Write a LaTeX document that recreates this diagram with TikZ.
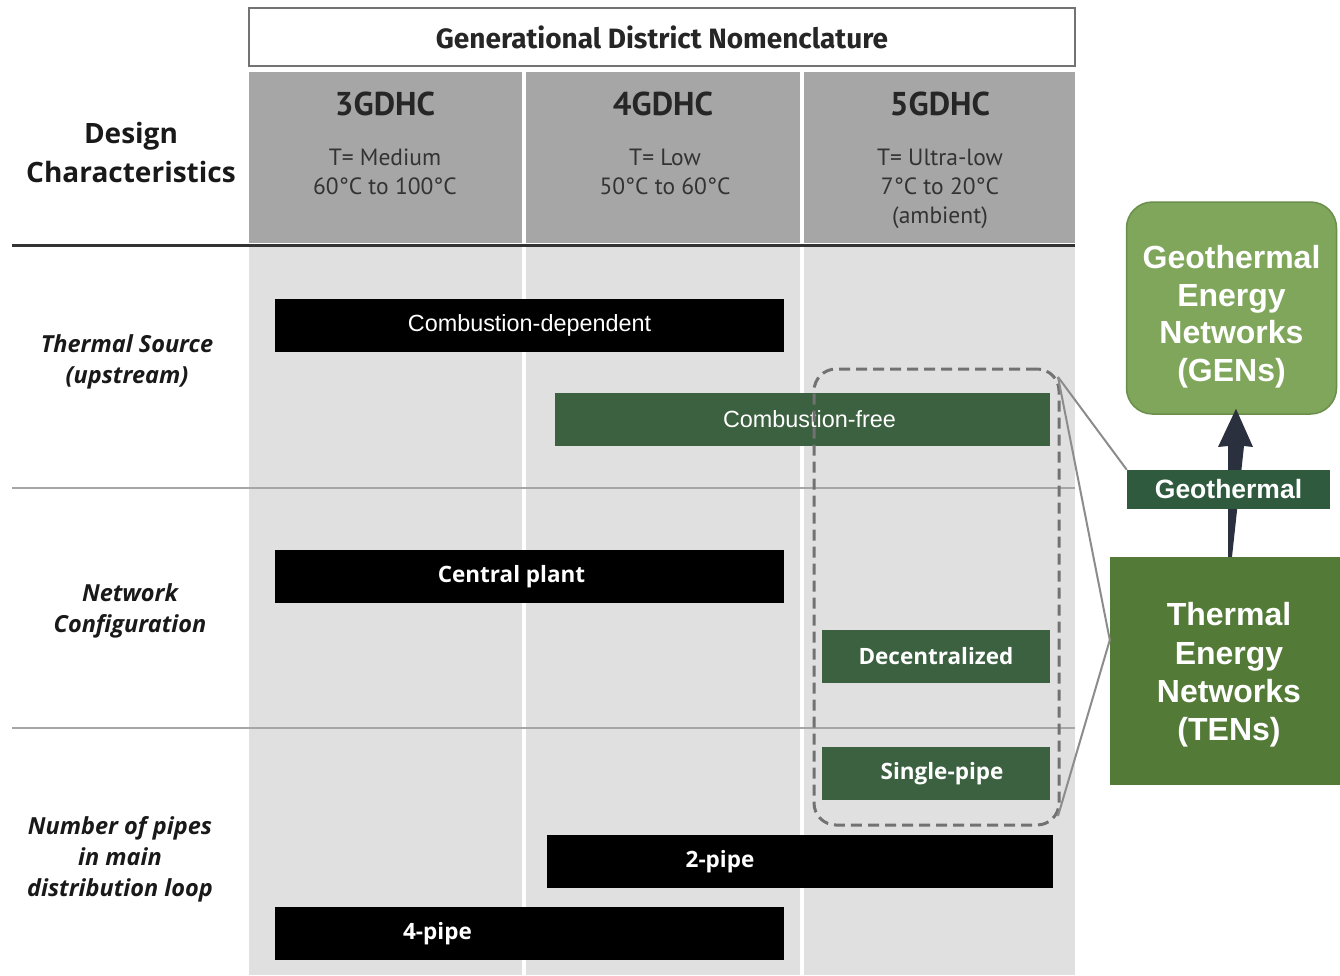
\documentclass[tikz,border=0pt]{standalone}
\usepackage{fontspec}
\setmainfont{Liberation Sans}
\newfontfamily\ptsans{PT Sans}
\newfontfamily\firasans{Fira Sans}
\newfontfamily\opensans{Open Sans}
\usetikzlibrary{calc}
\definecolor{hdrgray}{HTML}{A6A6A6}
\definecolor{bodygray}{HTML}{E0E0E0}
\definecolor{barblack}{HTML}{000000}
\definecolor{bargreen}{HTML}{3B6140}
\definecolor{gensgreen}{HTML}{7FA65B}
\definecolor{gensborder}{HTML}{6A8E4C}
\definecolor{tensgreen}{HTML}{537A37}
\definecolor{geogreen}{HTML}{2F5A3E}
\definecolor{dashgray}{HTML}{727272}
\definecolor{navyarrow}{HTML}{2A303D}
\definecolor{linegray}{HTML}{8C8C8C}
\tikzset{
  hdrcell/.style={fill=hdrgray, draw=none},
  bodycell/.style={fill=bodygray, draw=none},
  hdrtitle/.style={font=\ptsans\bfseries\fontsize{33}{36}\selectfont, text=black!85},
  hdrsub/.style={font=\ptsans\fontsize{23.5}{29}\selectfont, text=black!80, align=center},
  rowlabel/.style={font=\opensans\bfseries\itshape\fontsize{23.5}{31}\selectfont, align=center, text=black!90},
  bar/.style={minimum height=53pt, inner sep=0pt, text=white},
  blackbar/.style={bar, fill=barblack},
  greenbar/.style={bar, fill=bargreen},
  arialtxt/.style={font=\fontsize{23.4}{26}\selectfont},
  opentxt/.style={font=\opensans\bfseries\fontsize{22.5}{26}\selectfont},
  dashbox/.style={draw=dashgray, line width=3pt, dash pattern=on 11pt off 6pt, rounded corners=22pt, inner sep=0pt},
  conn/.style={draw=linegray, line width=2pt},
  bigbox/.style={text=white, align=center, inner sep=0pt},
}
\begin{document}
\begin{tikzpicture}[x=1pt,y=-1pt]
\useasboundingbox (0,0) rectangle (1340,975);
\fill[white] (0,0) rectangle (1340,975);
% title
\node[draw=black!55, line width=1.8pt, fill=white, minimum width=826pt, minimum height=58pt, inner sep=0pt,
  font=\firasans\fontsize{28}{30}\selectfont\bfseries, text=black!85] (title) at (662,37) {Generational District Nomenclature};
% header cells
\fill[hdrcell] (249,72) rectangle (522,243);
\fill[hdrcell] (526,72) rectangle (800,243);
\fill[hdrcell] (804,72) rectangle (1075,243);
% body cells
\fill[bodycell] (249,247) rectangle (522,975);
\fill[bodycell] (526,247) rectangle (800,975);
\fill[bodycell] (804,247) rectangle (1075,975);
% header texts
\node[hdrtitle] (g3) at (385,104) {3GDHC};
\node[hdrtitle] (g4) at (663,104) {4GDHC};
\node[hdrtitle] (g5) at (940,104) {5GDHC};
\node[hdrsub] (t3) at (385,172) {T= Medium\\60°C to 100°C};
\node[hdrsub] (t4) at (665,172) {T= Low\\50°C to 60°C};
\node[hdrsub] (t5) at (940,189) {T= Ultra-low\\7°C to 20°C\\(ambient)};
\node[font=\opensans\bfseries\fontsize{28}{39}\selectfont, align=center, text=black!90] (dc) at (131,152) {Design\\Characteristics};
% rules
\draw[black!80, line width=3pt] (12,245) -- (1075,245);
\draw[black!35, line width=1.3pt] (12,488) -- (1075,488);
\draw[black!35, line width=1.3pt] (12,728) -- (1075,728);
% row labels
\node[rowlabel] (rl1) at (127,362) {Thermal Source\\(upstream)};
\node[rowlabel] (rl2) at (130,611) {Network\\Configuration};
\node[rowlabel] (rl3) at (120,859) {Number of pipes\\in main\\distribution loop};
% bars
\node[blackbar, arialtxt, minimum width=509pt] (cdep) at (529.5,325.5) {Combustion-dependent};
\node[greenbar, arialtxt, minimum width=495pt] (cfree) at (802.5,419.5) {\hspace*{14pt}Combustion-free};
\node[blackbar, opentxt, minimum width=509pt] (central) at (529.5,576.5) {\hspace*{-36pt}Central plant};
\node[greenbar, opentxt, minimum width=228pt] (decent) at (936,656.5) {Decentralized};
\node[greenbar, opentxt, minimum width=228pt] (single) at (936,773.5) {\hspace*{12pt}Single-pipe};
\node[blackbar, opentxt, minimum width=506pt] (twopipe) at (800,861.5) {\hspace*{-160pt}2-pipe};
\node[blackbar, opentxt, minimum width=509pt] (fourpipe) at (529.5,933.5) {\hspace*{-184pt}4-pipe};
% dashed group
\node[dashbox, minimum width=245pt, minimum height=456pt] (tenset) at (936.5,597) {};
% right boxes
\node[fill=tensgreen, bigbox, font=\bfseries\fontsize{32}{38.3}\selectfont, minimum width=230pt, minimum height=228pt] (tens) at (1225,671)
  {\hspace*{8pt}\rule{0pt}{31pt}Thermal\\\hspace*{8pt}Energy\\\hspace*{8pt}Networks\\\hspace*{8pt}(TENs)};
\node[fill=gensgreen, draw=gensborder, line width=1.5pt, rounded corners=26pt, bigbox, font=\bfseries\fontsize{32}{37.5}\selectfont, minimum width=210pt, minimum height=212pt] (gens) at (1231.5,308)
  {\rule{0pt}{41pt}Geothermal\\Energy\\Networks\\(GENs)};
% arrow from TENs up to GENs
\fill[navyarrow] ($(tens.north)+(3,0)$) -- ($(tens.north)+(7,0)$) -- (1244,446) -- (1253,447) -- ($(gens.south)+(4.5,-6)$) -- (1218,447) -- (1228,446) -- cycle;
\node[fill=geogreen, text=white, font=\bfseries\fontsize{26.5}{28}\selectfont, minimum width=203pt, minimum height=39pt, inner sep=0pt] (geo) at (1228.5,489.5) {Geothermal};
% connectors
\coordinate (tr) at (1058,377);
\coordinate (br) at (1058,816);
\draw[conn] (tr) -- (geo.north west);
\draw[conn] (tr) -- ($(tens.west)+(0,-31)$);
\draw[conn] (br) -- ($(tens.west)+(0,-31)$);
\end{tikzpicture}
\end{document}
